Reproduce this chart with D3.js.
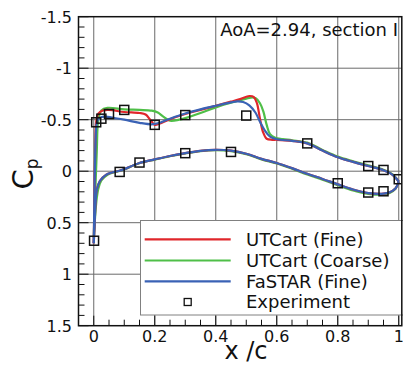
<!DOCTYPE html>
<html>
<head>
<meta charset="utf-8">
<script src="https://cdn.jsdelivr.net/npm/d3@7"></script>
<style>
  html, body { margin: 0; padding: 0; background: #fff; }
  svg { display: block; font-family: 'DejaVu Sans', Verdana, sans-serif; }
</style>
</head>
<body>
<div id="chart"></div>
<script>
// axis ticks
const xTicks = [0, 0.2, 0.4, 0.6, 0.8, 1];
const yTicks = [-1.5, -1, -0.5, 0, 0.5, 1, 1.5];
const xTickLabels = ['0', '0.2', '0.4', '0.6', '0.8', '1'];
const yTickLabels = ['-1.5', '-1', '-0.5', '0', '0.5', '1', '1.5'];

// UTCart (Fine) - red
const fineUpperX = [0, 0.002, 0.005, 0.008, 0.015, 0.03, 0.05, 0.1, 0.15, 0.17, 0.185, 0.2, 0.215, 0.25, 0.3, 0.35, 0.4, 0.45, 0.48, 0.51, 0.525, 0.535, 0.545, 0.555, 0.567, 0.585, 0.6, 0.65, 0.7, 0.75, 0.8, 0.85, 0.9, 0.95, 0.98, 1.0];
const fineUpperCp = [0.7, 0.3, -0.25, -0.48, -0.56, -0.59, -0.595, -0.575, -0.565, -0.55, -0.5, -0.45, -0.46, -0.505, -0.555, -0.595, -0.635, -0.675, -0.7, -0.73, -0.72, -0.66, -0.51, -0.38, -0.315, -0.305, -0.305, -0.295, -0.27, -0.2, -0.135, -0.09, -0.05, -0.01, 0.035, 0.1];
const fineLowerX = [0, 0.003, 0.006, 0.01, 0.02, 0.04, 0.06, 0.085, 0.1, 0.15, 0.2, 0.25, 0.3, 0.35, 0.4, 0.45, 0.5, 0.55, 0.6, 0.65, 0.7, 0.75, 0.8, 0.85, 0.9, 0.95, 0.97, 0.99, 1.0];
const fineLowerCp = [0.7, 0.5, 0.3, 0.18, 0.095, 0.035, 0.012, -0.005, -0.02, -0.08, -0.115, -0.148, -0.175, -0.198, -0.208, -0.2, -0.17, -0.12, -0.08, -0.03, 0.025, 0.075, 0.128, 0.178, 0.212, 0.218, 0.205, 0.165, 0.1];

// UTCart (Coarse) - green
const coarseUpperX = [0, 0.004, 0.01, 0.015, 0.025, 0.045, 0.1, 0.15, 0.19, 0.21, 0.228, 0.25, 0.28, 0.3, 0.35, 0.4, 0.45, 0.5, 0.515, 0.53, 0.545, 0.556, 0.567, 0.578, 0.595, 0.62, 0.65, 0.7, 0.75, 0.8, 0.85, 0.9, 0.95, 0.98, 1.0];
const coarseUpperCp = [0.65, 0.3, -0.2, -0.5, -0.59, -0.615, -0.6, -0.595, -0.588, -0.57, -0.53, -0.49, -0.5, -0.515, -0.565, -0.62, -0.665, -0.705, -0.715, -0.71, -0.66, -0.58, -0.45, -0.36, -0.325, -0.312, -0.3, -0.277, -0.207, -0.142, -0.097, -0.057, -0.015, 0.03, 0.1];
const coarseLowerX = [0.001, 0.005, 0.01, 0.015, 0.025, 0.045, 0.065, 0.085, 0.1, 0.15, 0.2, 0.25, 0.3, 0.35, 0.4, 0.45, 0.5, 0.55, 0.6, 0.65, 0.7, 0.75, 0.8, 0.85, 0.9, 0.95, 0.97, 0.99, 1.0];
const coarseLowerCp = [0.62, 0.42, 0.26, 0.17, 0.09, 0.035, 0.012, -0.003, -0.018, -0.078, -0.113, -0.145, -0.172, -0.195, -0.204, -0.195, -0.165, -0.115, -0.075, -0.024, 0.032, 0.083, 0.136, 0.186, 0.22, 0.226, 0.211, 0.168, 0.1];

// FaSTAR (Fine) - blue
const fastarUpperX = [0, 0.002, 0.005, 0.008, 0.012, 0.02, 0.04, 0.06, 0.1, 0.15, 0.19, 0.21, 0.25, 0.3, 0.35, 0.4, 0.45, 0.47, 0.49, 0.51, 0.53, 0.545, 0.56, 0.578, 0.6, 0.65, 0.7, 0.75, 0.8, 0.85, 0.9, 0.95, 0.98, 1.0];
const fastarUpperCp = [0.7, 0.3, -0.2, -0.42, -0.49, -0.52, -0.53, -0.52, -0.5, -0.47, -0.455, -0.465, -0.51, -0.56, -0.6, -0.635, -0.668, -0.678, -0.672, -0.64, -0.57, -0.48, -0.4, -0.335, -0.31, -0.295, -0.27, -0.2, -0.135, -0.09, -0.05, -0.01, 0.035, 0.1];
const fastarLowerX = [0, 0.003, 0.006, 0.01, 0.02, 0.04, 0.06, 0.085, 0.1, 0.15, 0.2, 0.25, 0.3, 0.35, 0.4, 0.45, 0.5, 0.55, 0.6, 0.65, 0.7, 0.75, 0.8, 0.85, 0.9, 0.95, 0.97, 0.99, 1.0];
const fastarLowerCp = [0.7, 0.5, 0.3, 0.18, 0.095, 0.035, 0.012, -0.005, -0.02, -0.08, -0.115, -0.148, -0.175, -0.198, -0.208, -0.2, -0.17, -0.12, -0.08, -0.03, 0.025, 0.075, 0.128, 0.178, 0.212, 0.218, 0.205, 0.165, 0.1];

// Experiment
const expUpperX = [0.008, 0.025, 0.05, 0.1, 0.2, 0.3, 0.5, 0.7, 0.9, 0.95, 1.0];
const expUpperCp = [-0.475, -0.51, -0.555, -0.595, -0.45, -0.545, -0.54, -0.27, -0.05, -0.012, 0.078];
const expLowerX = [0.001, 0.085, 0.15, 0.3, 0.45, 0.8, 0.9, 0.95];
const expLowerCp = [0.675, 0.007, -0.084, -0.175, -0.187, 0.117, 0.207, 0.195];

const seriesNames = ['UTCart (Fine)', 'UTCart (Coarse)', 'FaSTAR (Fine)', 'Experiment'];
const seriesColors = ['#e0262b', '#4fbf48', '#3a62b5'];

const width = 403;
const height = 365;

const x = d3.scaleLinear().domain([-0.05, 1.01]).range([78.5, 401.8]);
const y = d3.scaleLinear().domain([-1.5, 1.5]).range([16.7, 325.7]);

const svg = d3.select('#chart')
  .append('svg')
  .attr('width', width)
  .attr('height', height);

const [x0, x1] = x.range();
const [y0, y1] = y.range();

svg.append('defs').append('clipPath').attr('id', 'plot-clip')
  .append('rect').attr('x', x0).attr('y', y0).attr('width', x1 - x0).attr('height', y1 - y0);

// grid
const grid = svg.append('g').attr('stroke', '#6a6a6a').attr('stroke-width', 1);
grid.selectAll('line.gx')
  .data(xTicks)
  .enter()
  .append('line')
  .attr('x1', d => x(d)).attr('x2', d => x(d))
  .attr('y1', y0).attr('y2', y1);
grid.selectAll('line.gy')
  .data(yTicks.slice(1, -1))
  .enter()
  .append('line')
  .attr('x1', x0).attr('x2', x1)
  .attr('y1', d => y(d)).attr('y2', d => y(d));

// curves
const zip = (xs, cs) => xs.map((v, i) => [v, cs[i]]);
const line = d3.line()
  .x(d => x(d[0]))
  .y(d => y(d[1]))
  .curve(d3.curveCatmullRom.alpha(0.5));

const curves = [
  { color: seriesColors[1], parts: [zip(coarseUpperX, coarseUpperCp), zip(coarseLowerX, coarseLowerCp)] },
  { color: seriesColors[0], parts: [zip(fineUpperX, fineUpperCp), zip(fineLowerX, fineLowerCp)] },
  { color: seriesColors[2], parts: [zip(fastarUpperX, fastarUpperCp), zip(fastarLowerX, fastarLowerCp)] },
];

const plot = svg.append('g').attr('clip-path', 'url(#plot-clip)');
curves.forEach(c => {
  plot.selectAll(null)
    .data(c.parts)
    .enter()
    .append('path')
    .attr('d', line)
    .attr('fill', 'none')
    .attr('stroke', c.color)
    .attr('stroke-width', 2.2)
    .attr('stroke-linejoin', 'round');
});

const expPoints = zip(expUpperX, expUpperCp).concat(zip(expLowerX, expLowerCp));
const sq = 9;
plot.selectAll('rect.exp')
  .data(expPoints)
  .enter()
  .append('rect')
  .attr('x', d => x(d[0]) - sq / 2)
  .attr('y', d => y(d[1]) - sq / 2)
  .attr('width', sq)
  .attr('height', sq)
  .attr('fill', 'none')
  .attr('stroke', '#111')
  .attr('stroke-width', 1.5);

// legend
const legend = svg.append('g');
legend.append('rect')
  .attr('x', 140.5).attr('y', 220.5)
  .attr('width', 270).attr('height', 94.5)
  .attr('fill', '#fff')
  .attr('stroke', '#808080')
  .attr('stroke-width', 1);
const rowY = [239.3, 260.5, 281.3, 302];
seriesNames.forEach((name, i) => {
  if (i < 3) {
    legend.append('line')
      .attr('x1', 144.7).attr('x2', 230.7)
      .attr('y1', rowY[i]).attr('y2', rowY[i])
      .attr('stroke', seriesColors[i])
      .attr('stroke-width', 2.2);
  } else {
    legend.append('rect')
      .attr('x', 187.7 - 3.5).attr('y', rowY[i] - 3.5)
      .attr('width', 7).attr('height', 7)
      .attr('fill', 'none')
      .attr('stroke', '#111')
      .attr('stroke-width', 1.3);
  }
  legend.append('text')
    .attr('x', 246).attr('y', rowY[i] + 6.3)
    .attr('font-size', 18)
    .attr('fill', '#111')
    .text(name);
});

// ticks (inside)
const ticks = svg.append('g').attr('stroke', '#111').attr('stroke-width', 1);
const xMinor = d3.range(0, 1.0001, 0.05).filter(v => !xTicks.some(t => Math.abs(t - v) < 1e-6));
const yMinor = d3.range(-1.5, 1.5001, 0.1).filter(v => !yTicks.some(t => Math.abs(t - v) < 1e-6));
ticks.selectAll('line.xmaj').data(xTicks).enter().append('line')
  .attr('x1', d => x(d)).attr('x2', d => x(d)).attr('y1', y1).attr('y2', y1 - 10);
ticks.selectAll('line.xmin').data(xMinor).enter().append('line')
  .attr('x1', d => x(d)).attr('x2', d => x(d)).attr('y1', y1).attr('y2', y1 - 6);
ticks.selectAll('line.ymaj').data(yTicks).enter().append('line')
  .attr('x1', x0).attr('x2', x0 + 10).attr('y1', d => y(d)).attr('y2', d => y(d));
ticks.selectAll('line.ymin').data(yMinor).enter().append('line')
  .attr('x1', x0).attr('x2', x0 + 6).attr('y1', d => y(d)).attr('y2', d => y(d));

// frame
svg.append('rect')
  .attr('x', x0).attr('y', y0)
  .attr('width', x1 - x0).attr('height', y1 - y0)
  .attr('fill', 'none')
  .attr('stroke', '#111')
  .attr('stroke-width', 1.5);

// tick labels
svg.selectAll('text.xl')
  .data(xTicks)
  .enter()
  .append('text')
  .attr('x', d => x(d))
  .attr('y', 342)
  .attr('text-anchor', 'middle')
  .attr('font-size', 16)
  .attr('fill', '#111')
  .text((d, i) => xTickLabels[i]);
svg.selectAll('text.yl')
  .data(yTicks)
  .enter()
  .append('text')
  .attr('x', 72)
  .attr('y', d => y(d) + 5.8)
  .attr('text-anchor', 'end')
  .attr('font-size', 16)
  .attr('fill', '#111')
  .text((d, i) => yTickLabels[i]);

// axis titles
svg.append('text')
  .attr('x', 246).attr('y', 359)
  .attr('text-anchor', 'middle')
  .attr('font-size', 24)
  .attr('fill', '#111')
  .text('x /c');

const cp = svg.append('text')
  .attr('transform', 'translate(33,174) rotate(-90)')
  .attr('text-anchor', 'middle')
  .attr('font-size', 29)
  .attr('fill', '#111');
cp.append('tspan').text('C');
cp.append('tspan').attr('font-size', 17).attr('dy', 5).text('p');

// annotation
svg.append('text')
  .attr('x', 398).attr('y', 36)
  .attr('text-anchor', 'end')
  .attr('font-size', 18)
  .attr('fill', '#111')
  .text('AoA=2.94, section I');
</script>
</body>
</html>
